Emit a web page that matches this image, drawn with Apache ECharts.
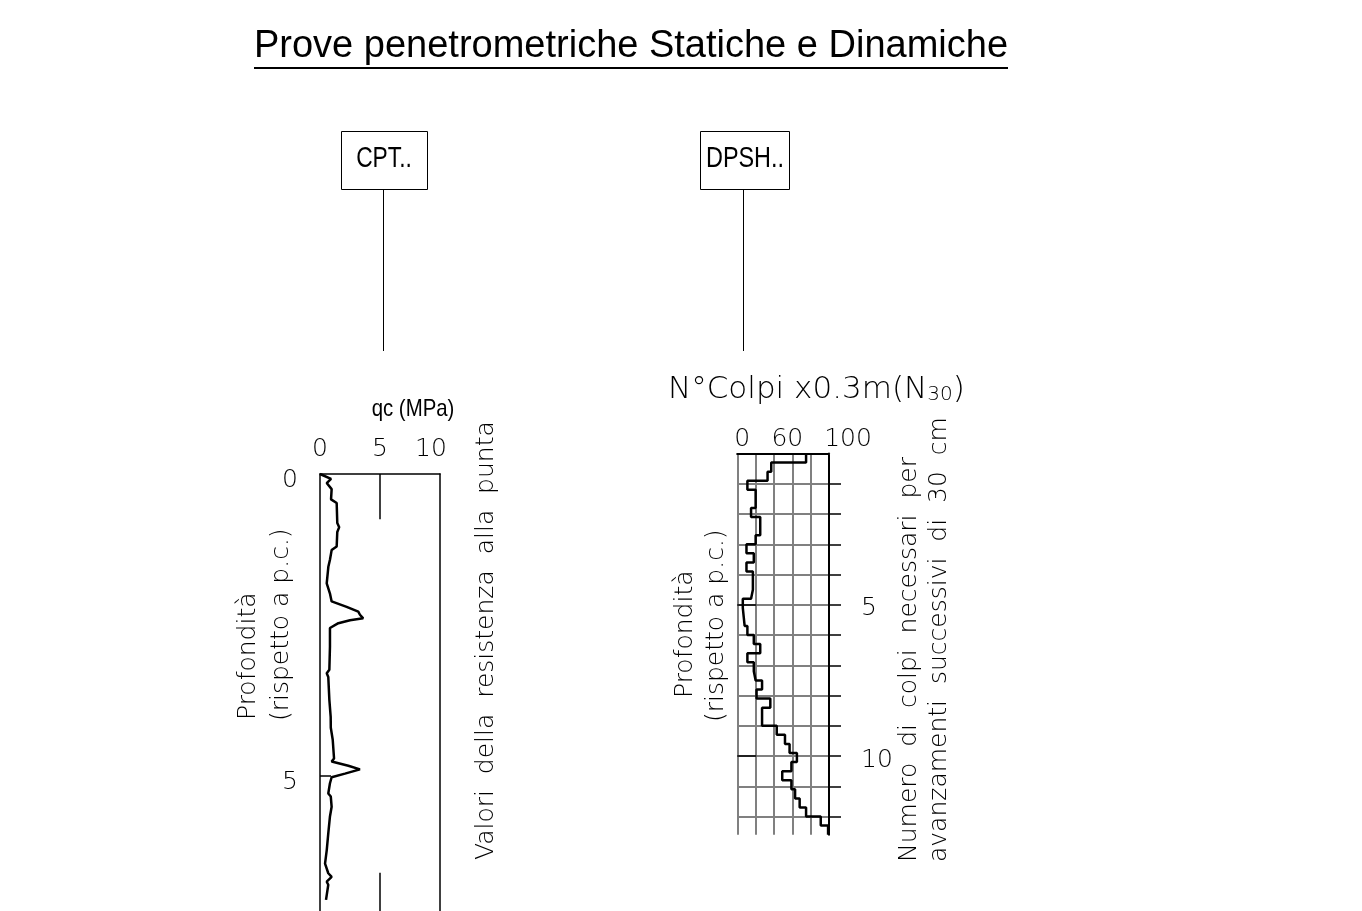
<!DOCTYPE html>
<html><head><meta charset="utf-8">
<script src="https://cdn.jsdelivr.net/npm/echarts@6/dist/echarts.min.js"></script>
<style>html,body{margin:0;padding:0;background:#fff}#c{width:1362px;height:911px}</style>
</head><body><div id="c"></div>
<script>
// ---------- data ----------
const chartTitle = 'Prove penetrometriche Statiche e Dinamiche';
const cptBoxLabel = 'CPT..';
const dpshBoxLabel = 'DPSH..';
const cptAxisName = 'qc (MPa)';
const cptDepth = [0, 0.08, 0.15, 0.25, 0.42, 0.48, 0.81, 0.88, 0.96, 1.2, 1.26, 1.42, 1.53, 1.81, 1.98, 2.11, 2.2, 2.28, 2.33, 2.39, 2.42, 2.47, 2.55, 2.86, 3.24, 3.3, 3.36, 3.74, 4.02, 4.2, 4.4, 4.71, 4.76, 4.83, 4.89, 4.96, 5.02, 5.12, 5.29, 5.34, 5.51, 5.67, 5.95, 6.23, 6.45, 6.61, 6.67, 6.75, 6.8, 7.05];
const cptQc    = [0, 0.92, 0.56, 0.97, 0.92, 1.39, 1.44, 1.6, 1.44, 1.39, 0.97, 0.83, 0.7, 0.56, 0.83, 0.97, 2.22, 3.19, 3.33, 3.6, 2.5, 1.53, 0.83, 0.83, 0.78, 0.56, 0.69, 0.78, 0.89, 0.9, 1.06, 1.17, 0.97, 2.36, 3.33, 2.08, 0.97, 0.83, 0.69, 0.9, 0.97, 0.83, 0.69, 0.56, 0.42, 0.69, 0.97, 0.56, 0.69, 0.5];
const cptXTicks = [0, 5, 10];
const cptDepthLabels = [0, 5];
const cptDepthMax = 7.235;
const cptGuideSpans = [[0, 0.75], [6.6, 7.235]]; // depth spans of the qc=5 guide line
const cptGuideQc = 5;

const dpshTitle = ['N°Colpi x0.3m(N', '30', ')'];
const dpshStep = 0.3;
const dpshValues = [75, 37, 33, 11, 20, 20, 15, 25, 25, 20, 10, 18, 10, 17, 17, 15, 6, 7, 8, 11, 18, 25, 11, 18, 20, 27, 21, 36, 27, 27, 43, 52, 57, 65, 59, 49, 59, 63, 68, 75, 91, 99];
const dpshXLabels = [0, 60, 100];
const dpshDepthTicks = [1, 2, 3, 4, 5, 6, 7, 8, 9, 10, 11, 12];
const dpshDepthLabels = [5, 10];
const dpshDepthMax = 12.6;

const leftLabel1 = 'Profondità';
const leftLabel2 = '(rispetto a p.c.)';
const cptRightLabel = 'Valori  della  resistenza  alla  punta';
const dpshRight1 = 'Numero  di  colpi  necessari  per';
const dpshRight2 = 'avanzamenti  successivi  di  30  cm';

// ---------- chart ----------
const CAD = 'DejaVu Sans';
const CADW = 200;
const chart = echarts.init(document.getElementById('c'), null, {renderer: 'canvas'});

const cptData = cptDepth.map((d, i) => [cptQc[i], d]);
const dpshData = [];
dpshValues.forEach((v, k) => {
  dpshData.push([v, +(k * dpshStep).toFixed(3)]);
  dpshData.push([v, +((k + 1) * dpshStep).toFixed(3)]);
});

const cadText = (size) => ({fontFamily: CAD, fontWeight: CADW, fontSize: size, color: '#000'});

function rotText(text, x, y, size) {
  return {type: 'text', x: x, y: y, rotation: Math.PI / 2,
    style: {text: text, fontFamily: CAD, fontWeight: CADW, fontSize: size, fill: '#000', align: 'left', verticalAlign: 'middle'}};
}

const option = {
  animation: false,
  backgroundColor: '#fff',
  grid: [
    {left: 320, top: 474, width: 120, height: 437},
    {left: 737.3, top: 453.5, width: 91.7, height: 381.2}
  ],
  xAxis: [
    {gridIndex: 0, type: 'value', position: 'top', min: 0, max: 10, interval: 5,
      axisLine: {show: true, lineStyle: {color: '#000', width: 1.5}},
      axisTick: {show: false}, splitLine: {show: false},
      axisLabel: Object.assign(cadText(25), {margin: 12, customValues: cptXTicks,
        formatter: v => v === 10 ? '{r|' + v + '}' : '' + v,
        rich: {r: Object.assign(cadText(25), {padding: [0, 18, 0, 0]})}})},
    {gridIndex: 1, type: 'value', position: 'top', min: 0, max: 100, interval: 20,
      axisLine: {show: true, lineStyle: {color: '#808080', width: 2}},
      axisTick: {show: false},
      splitLine: {show: true, lineStyle: {color: '#808080', width: 2}},
      axisLabel: Object.assign(cadText(25), {margin: 2, customValues: dpshXLabels,
        formatter: v => v === 0 ? '{l|0}' : (v === 100 ? '{r|100}' : '{m|' + v + '}'),
        rich: {l: Object.assign(cadText(25), {padding: [0, 0, 0, 10]}),
               m: Object.assign(cadText(25), {padding: [0, 10, 0, 0]}),
               r: Object.assign(cadText(25), {padding: [0, 0, 0, 38]})}})},
    {gridIndex: 1, type: 'value', position: 'bottom', min: 0, max: 100,
      axisLine: {show: true, lineStyle: {color: '#000', width: 2}},
      axisTick: {show: false}, axisLabel: {show: false}, splitLine: {show: false}}
  ],
  yAxis: [
    {gridIndex: 0, type: 'value', inverse: true, min: 0, max: cptDepthMax, interval: 5,
      axisLine: {show: true, onZero: false, lineStyle: {color: '#000', width: 1.5}},
      axisTick: {show: true, inside: true, length: 11, customValues: [5], lineStyle: {color: '#000', width: 1.5}},
      axisLabel: Object.assign(cadText(25), {margin: 22, verticalAlign: 'top', lineHeight: 13, customValues: cptDepthLabels}),
      splitLine: {show: false}},
    {gridIndex: 0, type: 'value', inverse: true, position: 'right', min: 0, max: cptDepthMax,
      axisLine: {show: true, onZero: false, lineStyle: {color: '#000', width: 1.5}},
      axisTick: {show: false}, axisLabel: {show: false}, splitLine: {show: false}},
    {gridIndex: 1, type: 'value', inverse: true, position: 'right', min: 0, max: dpshDepthMax, interval: 1,
      axisLine: {show: true, onZero: false, lineStyle: {color: '#000', width: 2}},
      axisTick: {show: true, length: 12, customValues: dpshDepthTicks, lineStyle: {color: '#000', width: 1.5}},
      axisLabel: {show: false},
      splitLine: {show: true, lineStyle: {color: '#808080', width: 2}}},
    {gridIndex: 1, type: 'value', inverse: true, position: 'right', min: 0, max: dpshDepthMax, interval: 5,
      axisLine: {show: false},
      axisTick: {show: true, length: 19, customValues: dpshDepthLabels, lineStyle: {color: '#000', width: 1.5}},
      axisLabel: Object.assign(cadText(25), {margin: 32, align: 'left', verticalAlign: 'top', lineHeight: 8, customValues: dpshDepthLabels}),
      splitLine: {show: false}}
  ],
  series: [
    {type: 'line', xAxisIndex: 0, yAxisIndex: 0, data: cptData, symbol: 'none',
      lineStyle: {color: '#000', width: 2.5}, silent: true,
      markLine: {silent: true, symbol: 'none', label: {show: false},
        lineStyle: {color: '#000', width: 1.5, type: 'solid'},
        data: cptGuideSpans.map(s => [{coord: [cptGuideQc, s[0]]}, {coord: [cptGuideQc, s[1]]}])}},
    {type: 'line', xAxisIndex: 1, yAxisIndex: 2, data: dpshData, symbol: 'none',
      lineStyle: {color: '#000', width: 2.5}, silent: true}
  ],
  graphic: [
    {type: 'text', x: 631, y: 47, style: {text: chartTitle, fontFamily: 'Liberation Sans, Arial', fontSize: 38, fill: '#000', align: 'center', verticalAlign: 'middle'}},
    {type: 'line', shape: {x1: 254, y1: 68, x2: 1008, y2: 68}, style: {stroke: '#000', lineWidth: 2}},
    {type: 'rect', shape: {x: 341.5, y: 131.5, width: 86, height: 58}, style: {stroke: '#000', fill: null, lineWidth: 1}},
    {type: 'text', x: 384, y: 159, scaleX: 0.76, style: {text: cptBoxLabel, fontFamily: 'Liberation Sans, Arial', fontSize: 30, fill: '#000', align: 'center', verticalAlign: 'middle'}},
    {type: 'line', shape: {x1: 383.5, y1: 189, x2: 383.5, y2: 351}, style: {stroke: '#000', lineWidth: 1}},
    {type: 'rect', shape: {x: 700.5, y: 131.5, width: 89, height: 58}, style: {stroke: '#000', fill: null, lineWidth: 1}},
    {type: 'text', x: 745, y: 159, scaleX: 0.78, style: {text: dpshBoxLabel, fontFamily: 'Liberation Sans, Arial', fontSize: 30, fill: '#000', align: 'center', verticalAlign: 'middle'}},
    {type: 'line', shape: {x1: 743.5, y1: 189, x2: 743.5, y2: 351}, style: {stroke: '#000', lineWidth: 1}},
    {type: 'text', x: 413, y: 409, scaleX: 0.85, style: {text: cptAxisName, fontFamily: 'Liberation Sans, Arial', fontSize: 24, fill: '#000', align: 'center', verticalAlign: 'middle'}},
    {type: 'text', x: 668, y: 390, style: {
      text: '{a|' + dpshTitle[0] + '}{s|' + dpshTitle[1] + '}{a|' + dpshTitle[2] + '}',
      align: 'left', verticalAlign: 'middle',
      rich: {a: {fontFamily: CAD, fontWeight: CADW, fontSize: 31, fill: '#000'},
             s: {fontFamily: CAD, fontWeight: CADW, fontSize: 20, fill: '#000', padding: [10, 0, 0, 0]}}}},
    rotText(leftLabel1, 248, 720, 25),
    rotText(leftLabel2, 281, 721, 25),
    rotText(cptRightLabel, 486, 860, 25),
    rotText(leftLabel1, 685, 698, 25),
    rotText(leftLabel2, 716, 722, 25),
    rotText(dpshRight1, 909, 862, 25),
    rotText(dpshRight2, 939, 862, 25)
  ]
};
chart.setOption(option);
</script>
</body></html>
